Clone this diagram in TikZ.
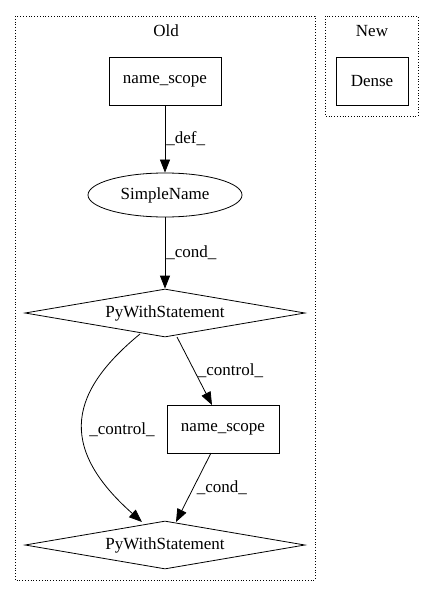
\documentclass[tikz,border=0pt]{standalone}
\usepackage{fontspec}
\setmainfont{Liberation Serif}
\usetikzlibrary{shapes.geometric,arrows.meta}
\begin{document}
\begin{tikzpicture}[x=1pt,y=-1pt,
  every node/.style={font=\fontsize{17}{19}\selectfont},
  box/.style={draw,thick,rectangle,minimum width=112pt,minimum height=48pt,inner sep=0pt},
  oval/.style={draw,thick,ellipse,minimum width=154pt,minimum height=44pt,inner sep=0pt},
  dia/.style={draw,thick,diamond,aspect=5.8,minimum width=280pt,minimum height=48pt,inner sep=0pt},
  cluster/.style={draw,dotted,thick},
  edge/.style={draw,thick,-{Triangle[length=13pt,width=10pt]}},
  lbl/.style={fill=none,inner sep=1pt}]
\useasboundingbox (0,0) rectangle (435,596);
\draw[cluster] (15,16) rectangle (315,580);
\draw[cluster] (325,16) rectangle (418,116);
\node (oldt) at (166,31) {Old};
\node (newt) at (372,31) {New};
\node[box] (ns1) at (165,81) {name\_scope};
\node[box,minimum width=72pt] (dense) at (372,81) {Dense};
\node[oval] (sn) at (165,195) {SimpleName};
\node[dia] (pw1) at (165,313) {PyWithStatement};
\node[box] (ns2) at (223,429) {name\_scope};
\node[dia] (pw2) at (165,545) {PyWithStatement};
\path[edge] (ns1) -- node[lbl,right,xshift=0pt] {\_def\_} (sn);
\path[edge] (sn) -- node[lbl,right] {\_cond\_} (pw1);
\coordinate (c1) at (140,334);
\path[edge] (c1) .. controls (72,390) and (55,445) .. (142,522);
\node[lbl] (lc) at (122,430) {\_control\_};
\coordinate (c2) at (177,337);
\coordinate (c3) at (212,405);
\path[edge] (c2) -- node[lbl,right,xshift=2pt] {\_control\_} (c3);
\coordinate (c4) at (211,453);
\coordinate (c5) at (176,522);
\path[edge] (c4) -- node[lbl,right,xshift=2pt] {\_cond\_} (c5);
\end{tikzpicture}
\end{document}
